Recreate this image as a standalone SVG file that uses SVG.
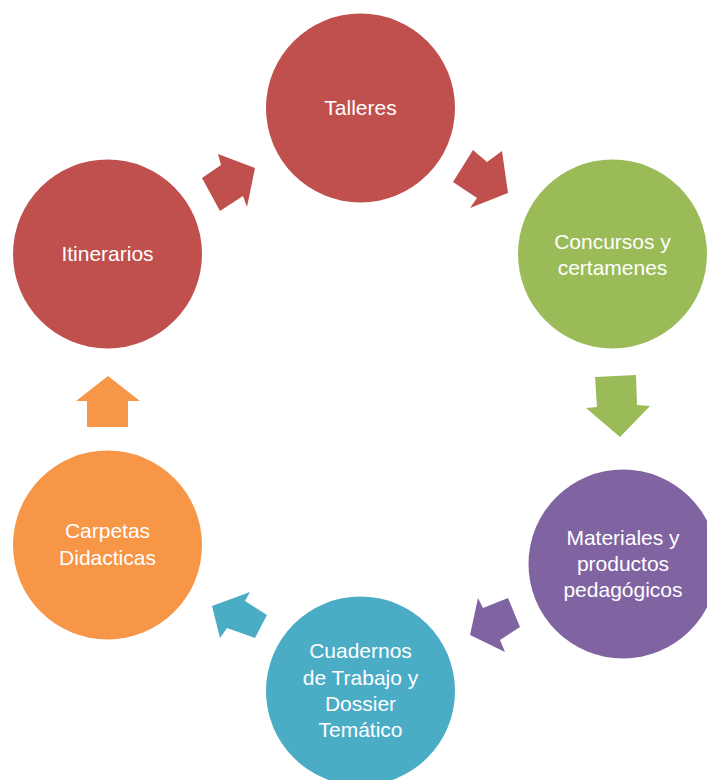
<svg xmlns="http://www.w3.org/2000/svg" width="707" height="780" viewBox="0 0 707 780">
<style>
text{font-family:"Liberation Sans",Arial,sans-serif;font-size:21px;fill:#ffffff;text-anchor:middle}
.red{fill:#C0504D}.green{fill:#9BBB59}.purple{fill:#8064A2}.teal{fill:#4BACC6}.orange{fill:#F79646}
</style>
<rect width="707" height="780" fill="#ffffff"/>
<g id="connectors">
<polygon class="red" points="255,168 247,207 243,196 220,211 202,178 221,165 218,154"/>
<polygon class="red" points="473,150 487,162 502,151 508,193 470,208 477,198 453,182"/>
<polygon class="green" points="595,377 636,375 637,405 650,406 620,437 586,408 597,407"/>
<polygon class="purple" points="478,598 483,608 508,598 520,627 500,640 505,652 470,635"/>
<polygon class="teal" points="250,592 245,601 267,615 255,638 227,628 220,638 212,606"/>
<polygon class="orange" points="108,376 140,401 128,401 128,427 87,427 87,401 76,401"/>
</g>
<g id="talleres">
<circle class="red" cx="360.5" cy="108" r="94.5"/>
<text x="360.5" y="115">Talleres</text>
</g>
<g id="concursos">
<circle class="green" cx="612.5" cy="254" r="94.5"/>
<text x="612.5" y="249">Concursos y</text>
<text x="612.5" y="275">certamenes</text>
</g>
<g id="materiales">
<circle class="purple" cx="623" cy="564" r="94.5"/>
<text x="623" y="545">Materiales y</text>
<text x="623" y="571">productos</text>
<text x="623" y="597">pedagógicos</text>
</g>
<g id="cuadernos">
<circle class="teal" cx="360.5" cy="691" r="94.5"/>
<text x="360.5" y="658">Cuadernos</text>
<text x="360.5" y="685">de Trabajo y</text>
<text x="360.5" y="711">Dossier</text>
<text x="360.5" y="737">Temático</text>
</g>
<g id="carpetas">
<circle class="orange" cx="107.5" cy="545" r="94.5"/>
<text x="107.5" y="538">Carpetas</text>
<text x="107.5" y="565">Didacticas</text>
</g>
<g id="itinerarios">
<circle class="red" cx="107.5" cy="254" r="94.5"/>
<text x="107.5" y="261">Itinerarios</text>
</g>
</svg>
